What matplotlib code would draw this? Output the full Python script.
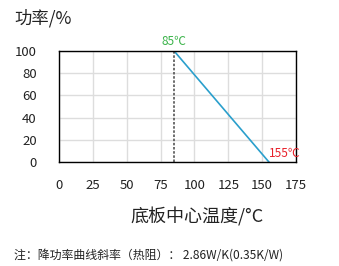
import matplotlib
matplotlib.use("Agg")
import matplotlib.pyplot as plt

plt.rcParams["font.family"] = ["Noto Sans CJK SC", "DejaVu Sans"]

temps = [0, 85, 155]
power = [100, 100, 0]
x_ticks = [0, 25, 50, 75, 100, 125, 150, 175]
y_ticks = [0, 20, 40, 60, 80, 100]

fig = plt.figure(figsize=(3.39, 2.66), dpi=100)
ax = fig.add_axes([59 / 339, 1 - 162 / 266, 237 / 339, 111 / 266])

ax.plot(temps[:2], power[:2], color="#00aeef", lw=1.2, solid_capstyle="butt")
ax.plot(temps[1:], power[1:], color="#2a9fcc", lw=1.2)
ax.plot([temps[1], temps[1]], [0, 100], color="#555555", lw=1.2, ls=(0, (1.5, 1)))

ax.set_xlim(0, 175)
ax.set_ylim(0, 100)
ax.set_xticks(x_ticks)
ax.set_yticks(y_ticks)
ax.grid(True, color="#dddddd", lw=1)
ax.set_axisbelow(True)
ax.tick_params(length=0, labelsize=9.5, colors="#222222")
ax.tick_params(axis="x", pad=12)
ax.tick_params(axis="y", pad=16)
for s in ax.spines.values():
    s.set_color("black")
    s.set_linewidth(1)

ax.text(85, 103, "85℃", color="#3cb44b", fontsize=8.5, ha="center", va="bottom")
ax.text(155, 2, "155℃", color="#e8202a", fontsize=8.5, ha="left", va="bottom")

fig.text(14 / 339, 1 - 18 / 266, "功率/%", fontsize=12.5, color="#222222", va="center")
fig.text(197 / 339, 1 - 217 / 266, "底板中心温度/°C", fontsize=13, color="#222222",
         ha="center", va="center")
fig.text(14 / 339, 1 - 255 / 266, "注：降功率曲线斜率（热阻）： 2.86W/K(0.35K/W)",
         fontsize=8.6, color="#222222", va="center")

fig.savefig("out.png", dpi=100)
